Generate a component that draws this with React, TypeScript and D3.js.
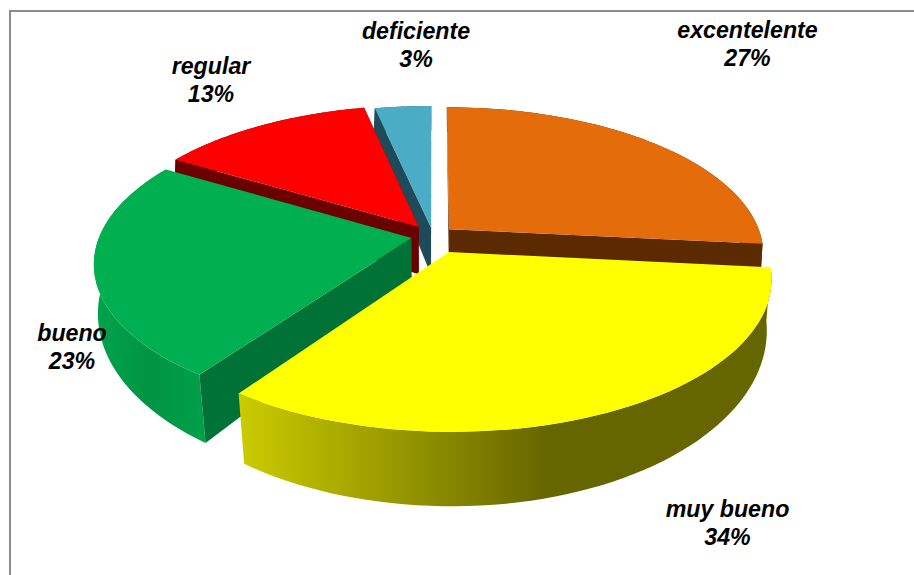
import React from "react";
import * as d3 from "d3";

const categories = ["excentelente", "muy bueno", "bueno", "regular", "deficiente"];
const labels = ["27%", "34%", "23%", "13%", "3%"];
const values = [26.6, 33.2, 23.8, 13.0, 3.4];
const explode = [0.07, 0.12, 0.07, 0.08, 0.06];
const topColors = ["#E46C0A", "#FFFF00", "#00B050", "#FF0000", "#4BACC6"];
const innerColors = ["#5C2A00", "#666600", "#007236", "#6B0000", "#1F4A5A"];
const labelPos = [[747.5, 31], [727.5, 510], [72, 334], [211, 67], [416, 32]];

const W = 914, H = 575;
const CX = 433, CY = 236, R0 = 312, A = 144.2, K = 0.165;
const START = 0;

type P = [number, number];
// perspective projection of a disc point (u right, v back), z = 0 top, 1 bottom
function proj(u: number, v: number, z = 0): P {
  const d = 1 + K * v;
  const x = (u * R0) / d;
  const y = (-v * A) / d;
  const h = 49 - 23 * v;
  const s = 0.008 - 0.022 * v;
  return [CX + x * (1 - s * z), CY + y + h * z];
}
const rad = (a: number) => (a * Math.PI) / 180;

const pie = d3.pie<number>().sort(null).startAngle(rad(START)).endAngle(rad(START + 360));
const arcs = pie(values);

function slicePts(i: number, a0: number, a1: number, z: number): P[] {
  const m = (arcs[i].startAngle + arcs[i].endAngle) / 2;
  const ou = explode[i] * Math.sin(m), ov = explode[i] * Math.cos(m);
  const ang = d3.range(0, 61).map((t) => a0 + ((a1 - a0) * t) / 60);
  return ang.map((a) => proj(ou + Math.sin(a), ov + Math.cos(a), z));
}
function apex(i: number, z: number): P {
  const m = (arcs[i].startAngle + arcs[i].endAngle) / 2;
  return proj(explode[i] * Math.sin(m), explode[i] * Math.cos(m), z);
}
const line = d3.line<P>();

function radialWall(i: number, a: number): string {
  const m = (arcs[i].startAngle + arcs[i].endAngle) / 2;
  const ou = explode[i] * Math.sin(m), ov = explode[i] * Math.cos(m);
  const rim0 = proj(ou + Math.sin(a), ov + Math.cos(a), 0);
  const rim1 = proj(ou + Math.sin(a), ov + Math.cos(a), 1);
  return line([apex(i, 0), rim0, rim1, apex(i, 1)])! + "Z";
}
function outerWall(i: number): string {
  const { startAngle: s, endAngle: e } = arcs[i];
  const top = slicePts(i, s, e, 0);
  const bot = slicePts(i, s, e, 1).reverse();
  return line([...top, ...bot])! + "Z";
}
function topFace(i: number): string {
  const { startAngle: s, endAngle: e } = arcs[i];
  return line([apex(i, 0), ...slicePts(i, s, e, 0)])! + "Z";
}

// paint order: back slices first
const order = [4, 3, 0, 2, 1];

export default function App() {
  return (
    <svg width={W} height={H} style={{ position: "absolute", left: 0, top: 0 }}>
      <defs>
        <linearGradient id="g1" gradientUnits="userSpaceOnUse" x1="237" x2="771" y1="0" y2="0">
          <stop offset="0" stopColor="#CCCC00" />
          <stop offset="0.58" stopColor="#666600" />
          <stop offset="1" stopColor="#666600" />
        </linearGradient>
        <linearGradient id="g2" gradientUnits="userSpaceOnUse" x1="96" x2="204" y1="0" y2="0">
          <stop offset="0" stopColor="#00A34C" />
          <stop offset="0.5" stopColor="#009443" />
          <stop offset="1" stopColor="#00A04A" />
        </linearGradient>
      </defs>
      <rect x={10} y={11} width={W} height={H} fill="#fff" stroke="#8c8c8c" strokeWidth={2} />
      {order.map((i) => (
        <g key={categories[i]}>
          <path d={outerWall(i)} fill={i === 1 ? "url(#g1)" : i === 2 ? "url(#g2)" : innerColors[i]} />
          {i !== 1 && <path d={radialWall(i, arcs[i].startAngle)} fill={innerColors[i]} />}
          {i !== 1 && i !== 2 && <path d={radialWall(i, arcs[i].endAngle)} fill={innerColors[i]} />}
          <path d={topFace(i)} fill={topColors[i]} />
        </g>
      ))}
      {categories.map((c, i) => (
        <text
          key={c}
          textAnchor="middle"
          fontFamily="'Liberation Sans', Arial, sans-serif"
          fontWeight="bold"
          fontStyle="italic"
          fontSize={23.2}
          fill="#000"
        >
          <tspan x={labelPos[i][0]} y={labelPos[i][1] + 7}>{c}</tspan>
          <tspan x={labelPos[i][0]} y={labelPos[i][1] + 35}>{labels[i]}</tspan>
        </text>
      ))}
    </svg>
  );
}
